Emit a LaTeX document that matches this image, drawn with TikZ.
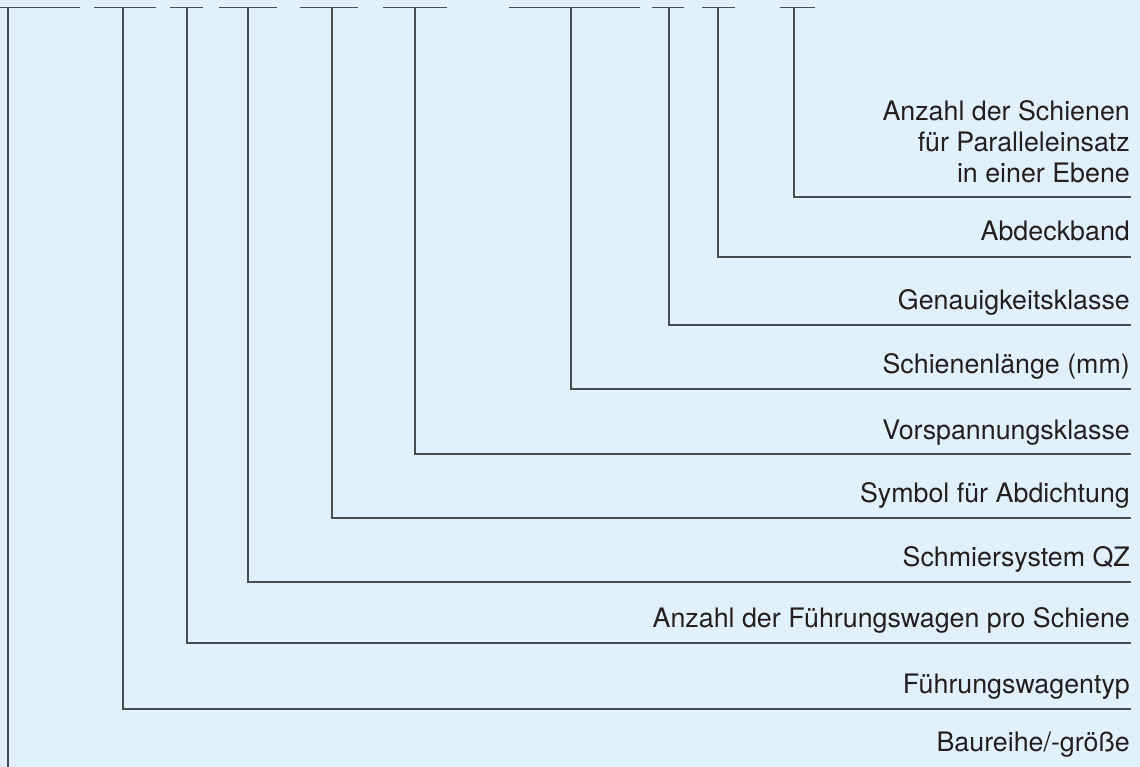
\documentclass[tikz,border=0pt]{standalone}
\usepackage{fontspec}
\setmainfont{TeX Gyre Heros}
\definecolor{bg}{HTML}{E0F1FB}
\definecolor{ln}{HTML}{4A4D50}
\definecolor{tx}{HTML}{231F20}
\tikzset{
  conn/.style={draw=ln, line width=1.3pt},
  lbl/.style={anchor=base east, inner sep=0pt, text=tx, font=\fontsize{26.8}{31}\selectfont, align=right},
}
\begin{document}
\begin{tikzpicture}[x=1pt,y=-1pt]
\fill[bg] (0,0) rectangle (1140,767);
\useasboundingbox (0,0) rectangle (1140,767);
% top segments
\foreach \s/\e in {0/80, 94/156, 170/203, 219/277, 300/358, 383/447, 509/640, 652/684, 702/735, 780/815}
  \draw[conn] (\s,7.5) -- (\e,7.5);
% top coordinates
\coordinate (a1) at (8,7.5);
\coordinate (a2) at (123,7.5);
\coordinate (a3) at (187,7.5);
\coordinate (a4) at (248,7.5);
\coordinate (a5) at (332,7.5);
\coordinate (a6) at (415,7.5);
\coordinate (a7) at (571,7.5);
\coordinate (a8) at (669,7.5);
\coordinate (a9) at (718,7.5);
\coordinate (a10) at (794,7.5);
% line ends
\coordinate (e1) at (8,767);
\coordinate (e2) at (1131,709);
\coordinate (e3) at (1131,643);
\coordinate (e4) at (1131,582);
\coordinate (e5) at (1131,518);
\coordinate (e6) at (1131,454);
\coordinate (e7) at (1131,389);
\coordinate (e8) at (1131,325);
\coordinate (e9) at (1131,257);
\coordinate (e10) at (1131,197);
% labels
\node[lbl] (l1) at (1130,751) {Baureihe/-größe};
\node[lbl] (l2) at (1130,693) {Führungswagentyp};
\node[lbl] (l3) at (1130,627) {Anzahl der Führungswagen pro Schiene};
\node[lbl] (l4) at (1130,566) {Schmiersystem QZ};
\node[lbl] (l5) at (1130,502) {Symbol für Abdichtung};
\node[lbl] (l6) at (1130,439) {Vorspannungsklasse};
\node[lbl] (l7) at (1130,373) {Schienenlänge (mm)};
\node[lbl] (l8) at (1130,309) {Genauigkeitsklasse};
\node[lbl] (l9) at (1130,241) {Abdeckband};
\node[lbl] (l10) at (1130,183) {Anzahl der Schienen\\für Paralleleinsatz\\in einer Ebene};
% connectors
\draw[conn] (a1) -- (e1);
\foreach \i in {2,...,10}
  \draw[conn] (a\i) |- (e\i);
\end{tikzpicture}
\end{document}
